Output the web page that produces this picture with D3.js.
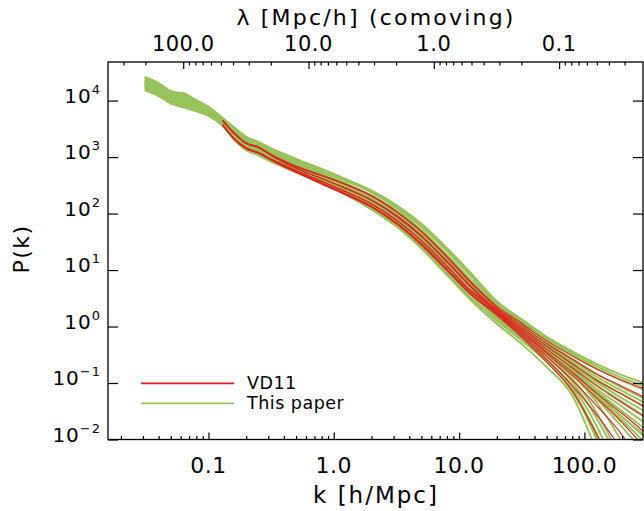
<!DOCTYPE html>
<html><head><meta charset="utf-8">
<script src="https://cdn.jsdelivr.net/npm/d3@7"></script>
<style>
body{margin:0;background:#fff}
svg{display:block}
text{font-family:"DejaVu Sans",sans-serif;fill:#000}
</style>
</head><body>
<svg id="c" width="644" height="511"></svg>
<script>
// ---------- data (log10 P at the k nodes) ----------
const kGreen = [0.031,0.04,0.05,0.063,0.08,0.1,0.13,0.16,0.2,0.25,0.32,0.5,0.8,1.25,2,3.2,5,8,12.5,20,32,50,80,125,200,320];
const kRed   = [0.13,0.16,0.2,0.25,0.32,0.5,0.8,1.25,2,3.2,5,8,12.5,20,32,50,80,125,200,320];

const g01 = [4.42,4.31,4.16,4.13,4.01,3.89,3.69,3.53,3.36,3.27,3.15,2.97,2.79,2.61,2.41,2.14,1.82,1.39,0.94,0.45,0.12,-0.18,-0.44,-0.66,-0.86,-1.02];
const g02 = [4.36,4.26,4.11,4.07,3.96,3.85,3.66,3.47,3.30,3.21,3.09,2.91,2.73,2.54,2.32,2.05,1.71,1.27,0.82,0.37,0.04,-0.27,-0.57,-0.84,-1.08,-1.30];
const g03 = [4.39,4.28,4.14,4.10,3.99,3.87,3.67,3.50,3.33,3.24,3.12,2.94,2.76,2.58,2.37,2.09,1.76,1.33,0.88,0.40,0.08,-0.22,-0.50,-0.74,-0.96,-1.15];
const g04 = [4.33,4.23,4.10,4.03,3.94,3.83,3.64,3.45,3.27,3.18,3.06,2.88,2.70,2.51,2.28,2.00,1.65,1.21,0.76,0.33,0.00,-0.32,-0.64,-0.94,-1.20,-1.45];
const g05 = [4.30,4.20,4.07,4.00,3.91,3.81,3.62,3.42,3.24,3.15,3.03,2.85,2.67,2.47,2.24,1.95,1.60,1.15,0.70,0.30,-0.04,-0.37,-0.71,-1.03,-1.33,-1.62];
const g06 = [4.18,4.08,3.95,3.88,3.81,3.73,3.55,3.31,3.12,3.03,2.91,2.73,2.55,2.33,2.07,1.76,1.38,0.91,0.46,0.05,-0.32,-0.72,-1.22,-2.20,-3.40,-4.60];
const g07 = [4.28,4.18,4.05,3.98,3.89,3.80,3.61,3.40,3.22,3.13,3.01,2.83,2.65,2.45,2.21,1.92,1.56,1.11,0.66,0.22,-0.17,-0.58,-1.10,-2.00,-3.20,-4.40];
const g08 = [4.21,4.11,3.98,3.91,3.83,3.75,3.57,3.34,3.15,3.06,2.94,2.76,2.58,2.36,2.11,1.81,1.44,0.97,0.52,0.10,-0.26,-0.62,-1.06,-1.76,-2.80,-4.00];
const g09 = [4.24,4.14,4.01,3.94,3.86,3.77,3.58,3.37,3.18,3.09,2.97,2.79,2.61,2.40,2.16,1.85,1.49,1.03,0.58,0.14,-0.20,-0.52,-0.92,-1.52,-2.40,-3.50];
const g10 = [4.26,4.16,4.03,3.96,3.88,3.78,3.60,3.38,3.20,3.11,2.99,2.81,2.63,2.42,2.18,1.89,1.53,1.07,0.62,0.20,-0.12,-0.45,-0.84,-1.34,-2.05,-3.00];
const g11 = [4.40,4.30,4.17,4.10,4.00,3.88,3.68,3.51,3.34,3.25,3.13,2.95,2.77,2.59,2.38,2.11,1.78,1.35,0.90,0.40,-0.01,-0.37,-0.74,-1.15,-1.60,-2.00];
const g12 = [4.27,4.17,4.04,3.97,3.88,3.79,3.60,3.39,3.21,3.12,3.00,2.82,2.64,2.43,2.20,1.90,1.55,1.09,0.64,0.26,-0.08,-0.42,-0.78,-1.14,-1.50,-1.85];
const g13 = [4.32,4.22,4.09,4.02,3.92,3.82,3.63,3.43,3.26,3.17,3.05,2.87,2.69,2.49,2.26,1.97,1.63,1.18,0.73,0.32,-0.02,-0.34,-0.68,-0.98,-1.27,-1.53];
const g14 = [4.29,4.19,4.06,3.99,3.90,3.80,3.61,3.41,3.23,3.14,3.02,2.84,2.66,2.46,2.23,1.93,1.58,1.13,0.68,0.28,-0.06,-0.40,-0.75,-1.10,-1.42,-1.74];
const g15 = [4.23,4.13,4.00,3.93,3.85,3.76,3.58,3.36,3.17,3.08,2.96,2.78,2.60,2.39,2.14,1.84,1.47,1.01,0.56,0.16,-0.20,-0.60,-1.12,-1.90,-3.00,-4.20];
const g16 = [4.35,4.25,4.12,4.05,3.95,3.84,3.65,3.46,3.29,3.20,3.08,2.90,2.72,2.52,2.30,2.02,1.68,1.24,0.79,0.31,-0.05,-0.42,-0.80,-1.22,-1.66,-2.10];
const g17 = [4.41,4.30,4.16,4.11,4.00,3.88,3.68,3.52,3.35,3.26,3.14,2.96,2.78,2.60,2.39,2.12,1.79,1.36,0.91,0.43,0.10,-0.20,-0.47,-0.70,-0.91,-1.08];
const g18 = [4.35,4.24,4.11,4.04,3.95,3.84,3.65,3.46,3.28,3.19,3.07,2.89,2.71,2.52,2.30,2.02,1.68,1.24,0.79,0.35,0.02,-0.30,-0.60,-0.89,-1.14,-1.38];
const g19 = [4.29,4.18,4.05,3.99,3.90,3.80,3.61,3.41,3.23,3.14,3.02,2.84,2.66,2.45,2.22,1.93,1.57,1.12,0.67,0.25,-0.10,-0.45,-0.82,-1.20,-1.60,-1.96];
const g20 = [4.25,4.15,4.02,3.95,3.87,3.78,3.59,3.37,3.19,3.10,2.98,2.80,2.62,2.41,2.17,1.87,1.51,1.05,0.60,0.18,-0.16,-0.52,-0.98,-1.62,-2.50,-3.60];
const g21 = [4.20,4.09,3.96,3.90,3.82,3.74,3.56,3.32,3.13,3.04,2.92,2.74,2.56,2.34,2.09,1.78,1.41,0.94,0.49,0.12,-0.22,-0.62,-1.15,-1.95,-3.00,-4.00];
const g22 = [4.31,4.20,4.07,4.00,3.91,3.81,3.62,3.42,3.24,3.15,3.03,2.85,2.67,2.47,2.24,1.95,1.60,1.15,0.70,0.27,-0.10,-0.47,-0.86,-1.28,-1.78,-2.30];

const r01 = [3.65,3.43,3.25,3.18,3.04,2.84,2.68,2.52,2.32,2.03,1.69,1.24,0.78,0.36,0.05,-0.25,-0.52,-0.75,-0.95,-1.12];
const r02 = [3.64,3.42,3.24,3.17,3.03,2.83,2.67,2.51,2.31,2.02,1.68,1.23,0.77,0.33,0.01,-0.30,-0.58,-0.84,-1.06,-1.28];
const r03 = [3.57,3.33,3.16,3.08,2.96,2.76,2.57,2.39,2.17,1.88,1.52,1.07,0.63,0.31,-0.03,-0.35,-0.66,-0.95,-1.20,-1.45];
const r04 = [3.65,3.43,3.25,3.18,3.03,2.80,2.62,2.45,2.24,1.96,1.61,1.16,0.71,0.29,-0.06,-0.40,-0.73,-1.05,-1.35,-1.64];
const r05 = [3.57,3.32,3.15,3.07,2.95,2.76,2.57,2.38,2.17,1.87,1.52,1.07,0.62,0.27,-0.09,-0.45,-0.81,-1.18,-1.54,-1.92];
const r06 = [3.64,3.42,3.24,3.17,3.02,2.80,2.62,2.44,2.23,1.94,1.59,1.14,0.69,0.26,-0.11,-0.48,-0.86,-1.26,-1.70,-2.20];
const r07 = [3.56,3.32,3.15,3.07,2.95,2.74,2.54,2.35,2.13,1.83,1.47,1.02,0.58,0.24,-0.14,-0.53,-0.95,-1.40,-1.92,-2.60];
const r08 = [3.57,3.33,3.16,3.08,2.95,2.73,2.53,2.34,2.12,1.82,1.46,1.01,0.57,0.22,-0.17,-0.58,-1.04,-1.56,-2.20,-3.00];
const r09 = [3.56,3.32,3.15,3.07,2.94,2.73,2.52,2.33,2.11,1.81,1.44,0.99,0.56,0.20,-0.20,-0.63,-1.14,-1.90,-2.80,-3.80];

const greenRuns = [g01,g02,g03,g04,g05,g06,g07,g08,g09,g10,g11,g12,g13,g14,g15,g16,g17,g18,g19,g20,g21,g22];
const redRuns   = [r01,r02,r03,r04,r05,r06,r07,r08,r09];

const kMajor = [0.1,1,10,100];
const kLabels = ["0.1","1.0","10.0","100.0"];
const lamMajor = [100,10,1,0.1];
const lamLabels = ["100.0","10.0","1.0","0.1"];
const pMajor = [1e-2,1e-1,1,1e1,1e2,1e3,1e4];
const pExp = ["−2","−1","0","1","2","3","4"];
const legendNames = ["VD11","This paper"];

// ---------- layout ----------
const L=108, R=643, T=62, B=439.5;
const GREEN="#98c35b", RED="#e0221f";
const svg = d3.select("#c");

const x = d3.scaleLog().domain([0.015776, 293.6]).range([L,R]);
const y = d3.scaleLog().domain([0.01, 48195]).range([B,T]);
const lam = d3.scaleLog().domain([2*Math.PI/0.015776, 2*Math.PI/293.6]).range([L,R]);

svg.append("clipPath").attr("id","clip").append("rect")
  .attr("x",L).attr("y",T).attr("width",R-L).attr("height",B-T);

const line = d3.line().x(d=>x(d[0])).y(d=>y(Math.pow(10,d[1]))).curve(d3.curveMonotoneX);
const plot = svg.append("g").attr("clip-path","url(#clip)");
greenRuns.forEach(run=>{
  plot.append("path").attr("d", line(kGreen.map((k,i)=>[k,run[i]])))
    .attr("fill","none").attr("stroke",GREEN).attr("stroke-width",1.9);
});
redRuns.forEach(run=>{
  plot.append("path").attr("d", line(kRed.map((k,i)=>[k,run[i]])))
    .attr("fill","none").attr("stroke",RED).attr("stroke-width",1.1);
});

// ---------- axes ----------
function styleAxis(g){ g.select(".domain").remove(); g.selectAll("line").attr("stroke","#000").attr("stroke-width",1.2); }
const kMinor = x.ticks().filter(v=>!kMajor.some(m=>Math.abs(m-v)/m<1e-6));
svg.append("g").attr("transform",`translate(0,${B})`)
  .call(d3.axisBottom(x).tickValues(kMajor).tickSize(-7).tickFormat("")).call(styleAxis);
svg.append("g").attr("transform",`translate(0,${B})`)
  .call(d3.axisBottom(x).tickValues(kMinor).tickSize(-3.5).tickFormat("")).call(styleAxis);

const lamMinor = lam.ticks().filter(v=>!lamMajor.some(m=>Math.abs(m-v)/m<1e-6));
svg.append("g").attr("transform",`translate(0,${T})`)
  .call(d3.axisTop(lam).tickValues(lamMajor).tickSize(-7).tickFormat("")).call(styleAxis);
svg.append("g").attr("transform",`translate(0,${T})`)
  .call(d3.axisTop(lam).tickValues(lamMinor).tickSize(-3.5).tickFormat("")).call(styleAxis);

svg.append("g").attr("transform",`translate(${L},0)`)
  .call(d3.axisLeft(y).tickValues(pMajor).tickSize(-10).tickFormat("")).call(styleAxis);
svg.append("g").attr("transform",`translate(${R},0)`)
  .call(d3.axisRight(y).tickValues(pMajor).tickSize(-10).tickFormat("")).call(styleAxis);

svg.append("rect").attr("x",L).attr("y",T).attr("width",R-L).attr("height",B-T)
  .attr("fill","none").attr("stroke","#000").attr("stroke-width",1.3);

// tick labels
kMajor.forEach((k,i)=>{
  svg.append("text").attr("x",x(k)).attr("y",473).attr("text-anchor","middle")
    .attr("font-size",22).attr("letter-spacing","0.5px").text(kLabels[i]);
});
lamMajor.forEach((l,i)=>{
  svg.append("text").attr("x",lam(l)).attr("y",51).attr("text-anchor","middle")
    .attr("font-size",21).attr("letter-spacing","0.5px").text(lamLabels[i]);
});
pMajor.forEach((p,i)=>{
  const t = svg.append("text").attr("x",101).attr("y",y(p)+2).attr("text-anchor","end")
    .attr("font-size",20).attr("letter-spacing","1px");
  t.append("tspan").text("10");
  t.append("tspan").attr("dy",-9).attr("font-size",13).text(pExp[i]);
});

// titles
svg.append("text").attr("x",376).attr("y",503).attr("text-anchor","middle")
  .attr("font-size",23).attr("letter-spacing","2px").text("k [h/Mpc]");
svg.append("text").attr("x",376).attr("y",25).attr("text-anchor","middle")
  .attr("font-size",22).attr("letter-spacing","2.2px").text("λ [Mpc/h] (comoving)");
svg.append("text").attr("transform","translate(29,249) rotate(-90)").attr("text-anchor","middle")
  .attr("font-size",22).attr("letter-spacing","1.5px").text("P(k)");

// legend
[[RED,383.3],[GREEN,403.3]].forEach((d,i)=>{
  svg.append("line").attr("x1",141).attr("x2",234).attr("y1",d[1]).attr("y2",d[1])
    .attr("stroke",d[0]).attr("stroke-width",1.7);
  svg.append("text").attr("x",247).attr("y",d[1]+6).attr("font-size",17.5)
    .attr("letter-spacing","0.5px").text(legendNames[i]);
});
</script>
</body></html>
